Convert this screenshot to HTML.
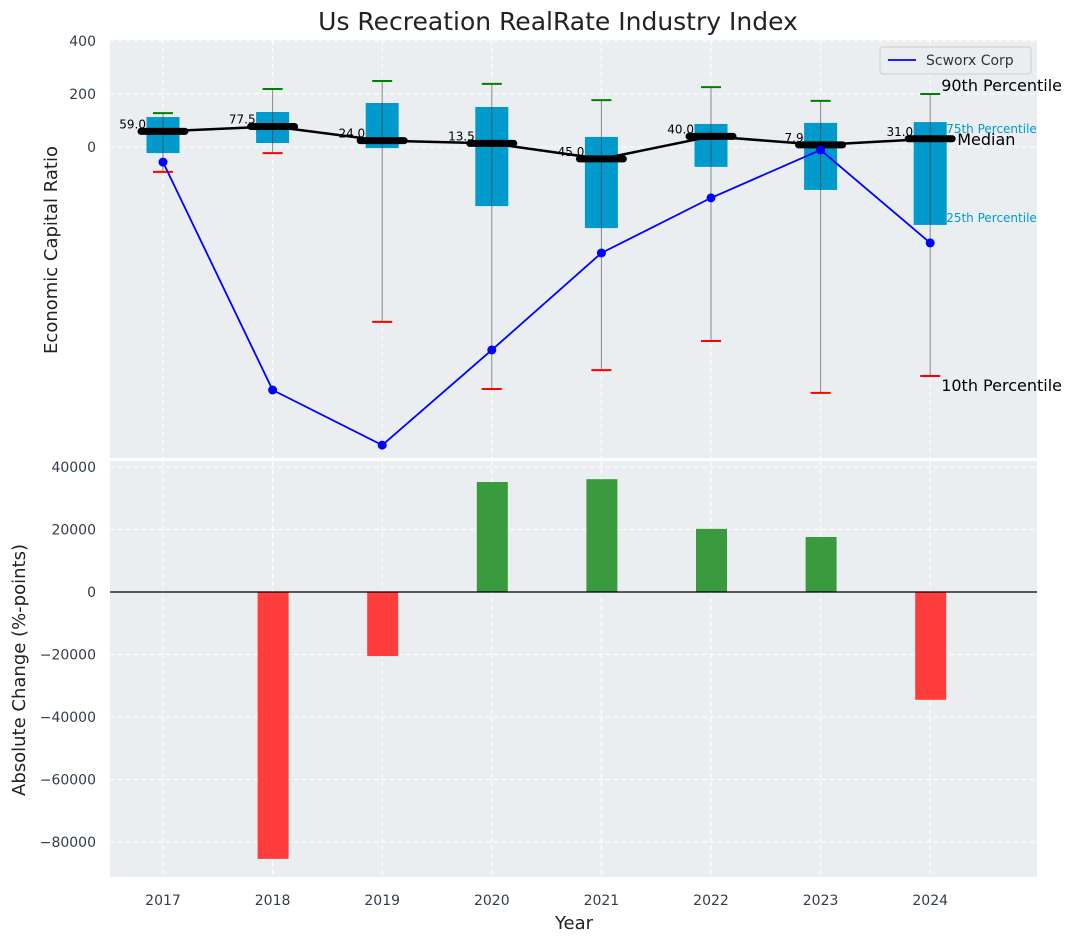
<!DOCTYPE html>
<html><head><meta charset="utf-8"><style>
body{margin:0;background:#fff;font-family:"Liberation Sans","DejaVu Sans",sans-serif;}
svg text{font-family:"DejaVu Sans","Liberation Sans",sans-serif;}
</style></head><body>
<svg id="c" width="1076" height="942"></svg>
<script>
const years=[2017,2018,2019,2020,2021,2022,2023,2024];
const q1=[-23,15,-4,-223,-306,-75,-162,-294];
const q3=[113,132,166,151,38,87,91,94];
const p90=[128,219,249,238,177,226,174,200];
const p10=[-94,-23,-660,-913,-842,-732,-928,-864];
const medians=[59.0,77.5,24.0,13.5,-45.0,40.0,7.9,31.0];
const scworx=[-57,-917,-1125,-766,-400,-192,-11,-362];
const changes=[0,-85400,-20500,35200,36100,20200,17600,-34500];
const topTicks=[0,200,400];
const botTicks=[-80000,-60000,-40000,-20000,0,20000,40000];

const NS='http://www.w3.org/2000/svg';
const svg=document.getElementById('c');
function el(t,a,txt){const e=document.createElementNS(NS,t);for(const k in a)e.setAttribute(k,a[k]);if(txt!==undefined)e.textContent=txt;svg.appendChild(e);return e;}
const L=110,R=1037;
const x=i=>163+i*109.6;
const yT=v=>147-v*53/200;
const yB=v=>592-v*125/40000;

let e=el('rect',{x:L,y:40,width:R-L,height:418,fill:'#eaeef0'});

e=el('rect',{x:L,y:461,width:R-L,height:416,fill:'#eaeef0'});


years.forEach((y,i)=>{
 el('line',{x1:x(i),x2:x(i),y1:40,y2:458,stroke:'#fff','stroke-dasharray':'5,3'});
 el('line',{x1:x(i),x2:x(i),y1:461,y2:877,stroke:'#fff','stroke-dasharray':'5,3'});
 e=el('text',{x:x(i),y:905,'text-anchor':'middle','font-size':14,fill:'#333d4a'},y);
 
});
topTicks.forEach(v=>{
 el('line',{x1:L,x2:R,y1:yT(v),y2:yT(v),stroke:'#fff','stroke-dasharray':'5,3'});
 e=el('text',{x:96,y:yT(v)+5,'text-anchor':'end','font-size':14,fill:'#333d4a'},v);
 
});
botTicks.forEach(v=>{
 el('line',{x1:L,x2:R,y1:yB(v),y2:yB(v),stroke:'#fff','stroke-dasharray':'5,3'});
 e=el('text',{x:96,y:yB(v)+5,'text-anchor':'end','font-size':14,fill:'#333d4a'},(v<0?'\u2212'+(-v):v));
 
});

years.forEach((y,i)=>{
 el('line',{x1:x(i),x2:x(i),y1:yT(p90[i]),y2:yT(p10[i]),stroke:'#888','stroke-width':1});
 e=el('rect',{x:x(i)-16.5,y:yT(q3[i]),width:33,height:yT(q1[i])-yT(q3[i]),fill:'#009acd'});
 
 el('line',{x1:x(i),x2:x(i),y1:yT(q3[i]),y2:yT(q1[i]),stroke:'#3a5a6a','stroke-width':1});
 el('line',{x1:x(i)-10,x2:x(i)+10,y1:yT(p90[i]),y2:yT(p90[i]),stroke:'green','stroke-width':2});
 el('line',{x1:x(i)-10,x2:x(i)+10,y1:yT(p10[i]),y2:yT(p10[i]),stroke:'red','stroke-width':2});
});
el('polyline',{points:medians.map((m,i)=>x(i)+','+yT(m)).join(' '),fill:'none',stroke:'#000','stroke-width':2.5});
medians.forEach((m,i)=>{
 e=el('line',{x1:x(i)-22,x2:x(i)+22,y1:yT(m),y2:yT(m),stroke:'#000','stroke-width':7,'stroke-linecap':'round'});
 
 el('text',{x:x(i)-17,y:yT(m)-3,'text-anchor':'end','font-size':12,fill:'#000'},m.toFixed(1));
});
e=el('polyline',{points:scworx.map((v,i)=>x(i)+','+yT(v)).join(' '),fill:'none',stroke:'blue','stroke-width':1.8});

scworx.forEach((v,i)=>{e=el('circle',{cx:x(i),cy:yT(v),r:4.5,fill:'blue'});
 });

const li=7;
el('text',{x:x(li)+11,y:yT(p90[li])-3,'font-size':16,fill:'#000'},'90th Percentile');
el('text',{x:x(li)+16,y:yT(q3[li])+11,'font-size':12,fill:'#009acd'},'75th Percentile');
el('text',{x:x(li)+27,y:yT(medians[li])+6,'font-size':16,fill:'#000'},'Median');
el('text',{x:x(li)+16,y:yT(q1[li])-3,'font-size':12,fill:'#009acd'},'25th Percentile');
el('text',{x:x(li)+11,y:yT(p10[li])+15,'font-size':16,fill:'#000'},'10th Percentile');

e=el('rect',{x:880,y:47,width:151,height:27,rx:3,fill:'#eaeef0',stroke:'#ccc'});

el('line',{x1:888,x2:916,y1:60,y2:60,stroke:'blue','stroke-width':1.8});
el('text',{x:926,y:65,'font-size':14,fill:'#333'},'Scworx Corp');

changes.forEach((v,i)=>{
 if(v===0)return;
 const y0=yB(Math.max(v,0)),y1=yB(Math.min(v,0));
 e=el('rect',{x:x(i)-15,y:y0,width:31,height:y1-y0,fill:v>0?'#3a9b3e':'#ff3d3d'});
 
});
el('line',{x1:L,x2:R,y1:yB(0),y2:yB(0),stroke:'#000','stroke-width':1.2});

e=el('text',{x:558,y:30,'text-anchor':'middle','font-size':25,fill:'#222'},'Us Recreation RealRate Industry Index');

e=el('text',{x:57,y:250,'text-anchor':'middle','font-size':18,fill:'#222',transform:'rotate(-90 57 250)'},'Economic Capital Ratio');

e=el('text',{x:25,y:670,'text-anchor':'middle','font-size':18,fill:'#222',transform:'rotate(-90 25 670)'},'Absolute Change (%-points)');

e=el('text',{x:574,y:929,'text-anchor':'middle','font-size':18,fill:'#222'},'Year');

</script>
</body></html>
